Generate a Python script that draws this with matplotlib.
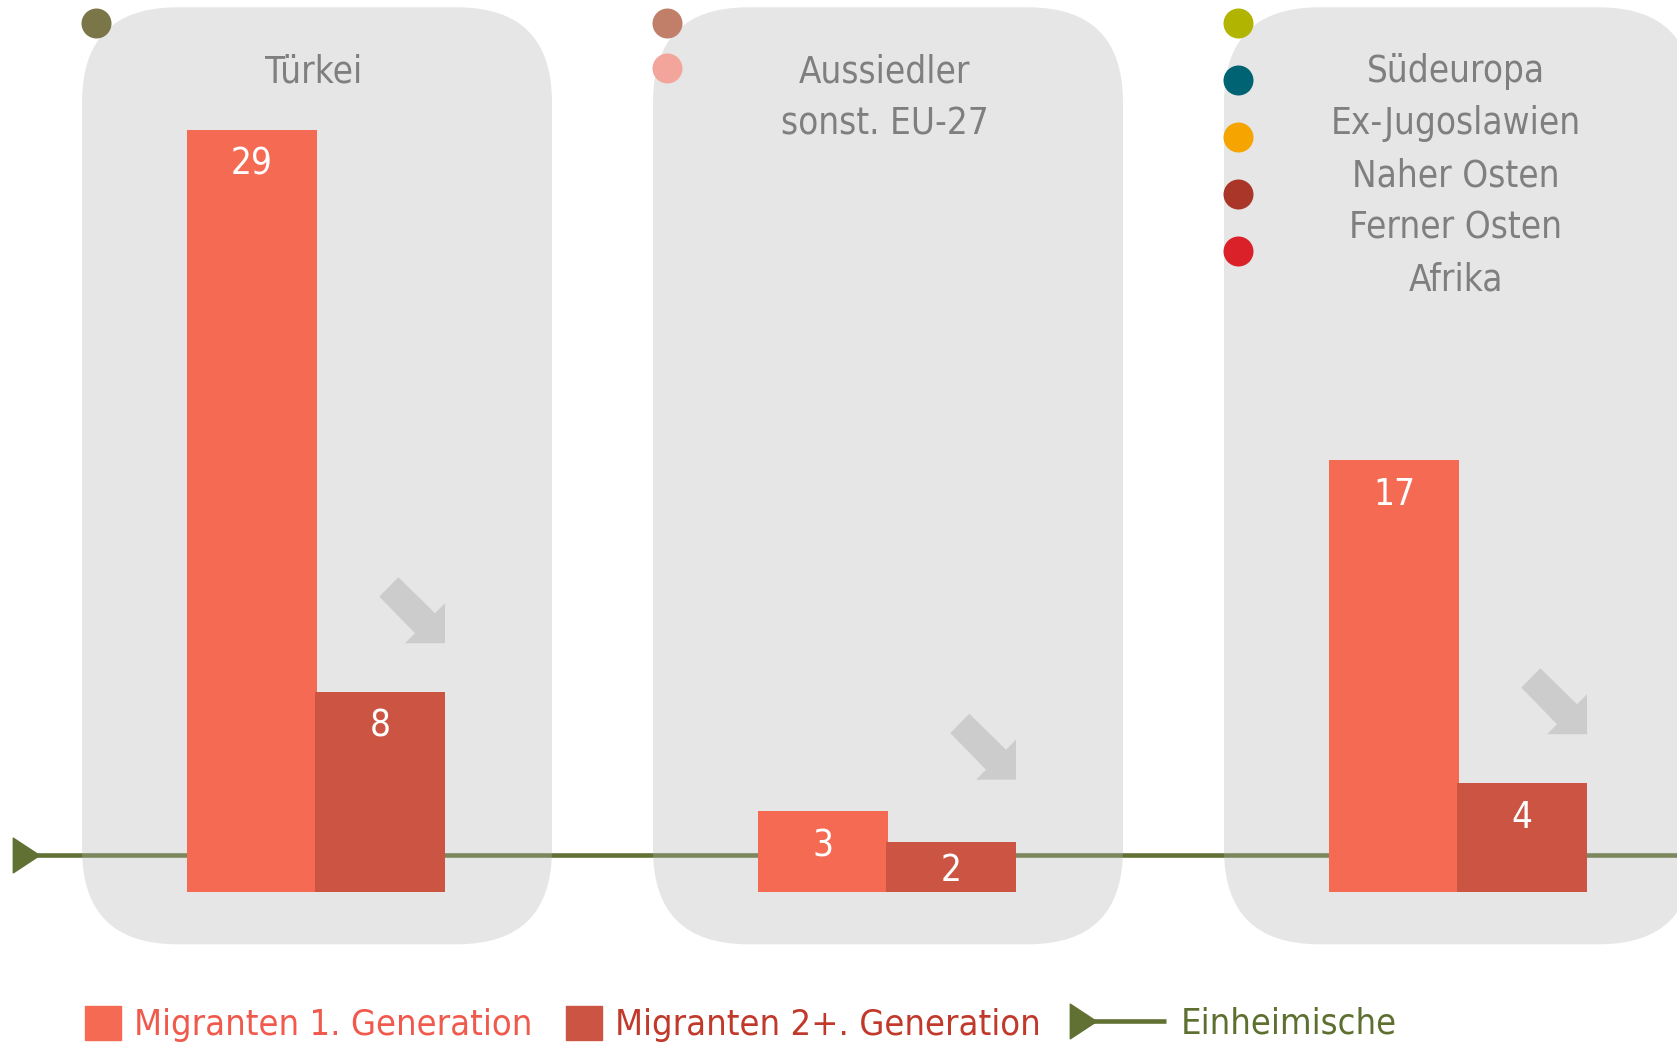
import matplotlib
matplotlib.use('Agg')
import matplotlib.pyplot as plt
import matplotlib.transforms as mtransforms
from matplotlib.patches import FancyBboxPatch, Polygon, Patch
from matplotlib.lines import Line2D
from matplotlib.path import Path

plt.rcParams['font.family'] = 'DejaVu Sans'
plt.rcParams['font.stretch'] = 'condensed'

# data
regions = [['Türkei'], ['Aussiedler', 'sonst. EU-27'],
           ['Südeuropa', 'Ex-Jugoslawien', 'Naher Osten', 'Ferner Osten', 'Afrika']]
dot_colors = [['#7b7647'], ['#c17f6a', '#f4a59b'],
              ['#b1b400', '#006373', '#f5a400', '#a93628', '#da2029']]
gen1 = [29.3, 3.1, 16.6]
gen2 = [7.7, 1.9, 4.2]
einheimische = 1.4
series_labels = ['Migranten 1. Generation', 'Migranten 2+. Generation', 'Einheimische']

# styles
c_gen1 = '#f46a53'
c_gen2 = '#cc5443'
c_line = '#607133'
c_title = '#7f7f7f'
fs = 26.4

fig = plt.figure(figsize=(16.77, 10.47), dpi=100)
ax = fig.add_axes([0, 0, 1, 1])
ax.set_xlim(-0.5552, 2.3818)
ax.set_ylim(-5.97, 34.30)
ax.axis('off')

bw = 0.2277
ov = 0.0035
x = list(range(len(gen1)))

# grey panels behind each group
pw, rx, ry = 0.8231, 0.1664, 3.654
for i in x:
    ax.add_patch(FancyBboxPatch((i - pw / 2, -2.02), pw, 36.04,
                                boxstyle=f'round,pad=0,rounding_size={rx}',
                                mutation_aspect=ry / rx, fc='#b6b6b6', alpha=0.33,
                                ec='none', zorder=2))

# Einheimische reference line
tri = Path([(-0.76, -1), (0.76, 0), (-0.76, 1), (-0.76, -1)],
           [Path.MOVETO, Path.LINETO, Path.LINETO, Path.CLOSEPOLY])
ax.plot([-0.5088, ax.get_xlim()[1]], [einheimische, einheimische], color=c_line,
        lw=3.3, marker=tri, ms=25, markevery=[0], zorder=1, solid_capstyle='butt')

# bars
ax.bar([i - bw for i in x], gen1, width=bw, align='edge', color=c_gen1, zorder=3)
ax.bar([i - ov for i in x], gen2, width=bw, align='edge', color=c_gen2, zorder=3)

for i in x:
    for xc, v in [(i - bw / 2, gen1[i]), (i + bw / 2 - ov, gen2[i])]:
        yb = max(v - 1.19, v / 2) - 0.54
        ax.text(xc, yb, f'{round(v)}', color='white', fontsize=fs,
                ha='center', va='baseline', zorder=4)

# titles
for i, lines in enumerate(regions):
    for k, t in enumerate(lines):
        ax.text(i - 0.006, 31.14 - k * 2.0, t, color=c_title, fontsize=fs,
                ha='center', va='baseline', zorder=4)

# colored dots
dot_steps = [2.19, 1.75, 2.19]
for i, cols in enumerate(dot_colors):
    for k, c in enumerate(cols):
        ax.plot(i - 0.387, 33.42 - k * dot_steps[i], 'o', ms=21.6, color=c,
                mec='none', zorder=4, clip_on=False)

# grey trend arrows (shape in pixels, anchored at the tip)
arrow_px = [(-65.7, 46.6), (-46.7, 66), (-10, 30), (0, 40), (0, 0), (-40, 0), (-30, 10)]
for i in x:
    tx = i - ov + bw
    ty = max(gen2[i] + 1.86, 4.31)
    tr = mtransforms.Affine2D() + mtransforms.ScaledTranslation(tx, ty, ax.transData)
    ax.add_patch(Polygon(arrow_px, closed=True, fc='#cccccc', ec='none',
                         transform=tr, zorder=3))


# legend
class LineMarkerHandler:
    def legend_artist(self, legend, orig_handle, fontsize, handlebox):
        left = -handlebox.xdescent
        ymid = -handlebox.ydescent + handlebox.height / 2
        w = handlebox.width
        ln = Line2D([left + 9.4, left + w], [ymid, ymid], color=c_line, lw=3.3,
                    solid_capstyle='butt')
        mk = Line2D([left + 9.4], [ymid], marker=tri, ms=25, color=c_line, lw=0)
        handlebox.add_artist(ln)
        handlebox.add_artist(mk)
        return ln


lfs = 26
handles = [Patch(color=c_gen1), Patch(color=c_gen2)]
leg1 = fig.legend(handles, series_labels[:2], loc='center left',
                  bbox_to_anchor=(85 / 1677, 23 / 1047), ncol=2, frameon=False,
                  fontsize=lfs, handlelength=1.0, handleheight=1.06,
                  handletextpad=0.36, columnspacing=0.92, borderpad=0, borderaxespad=0)
leg1.get_texts()[0].set_color('#f05a4c')
leg1.get_texts()[1].set_color('#c0392b')

eh = Line2D([], [])
leg2 = fig.legend([eh], series_labels[2:], loc='center left',
                  bbox_to_anchor=(1070 / 1677, 23 / 1047), frameon=False,
                  fontsize=lfs, handlelength=2.66, handletextpad=0.42,
                  borderpad=0, borderaxespad=0,
                  handler_map={eh: LineMarkerHandler()})
leg2.get_texts()[0].set_color('#5e7030')

fig.savefig('out.png', dpi=100)
